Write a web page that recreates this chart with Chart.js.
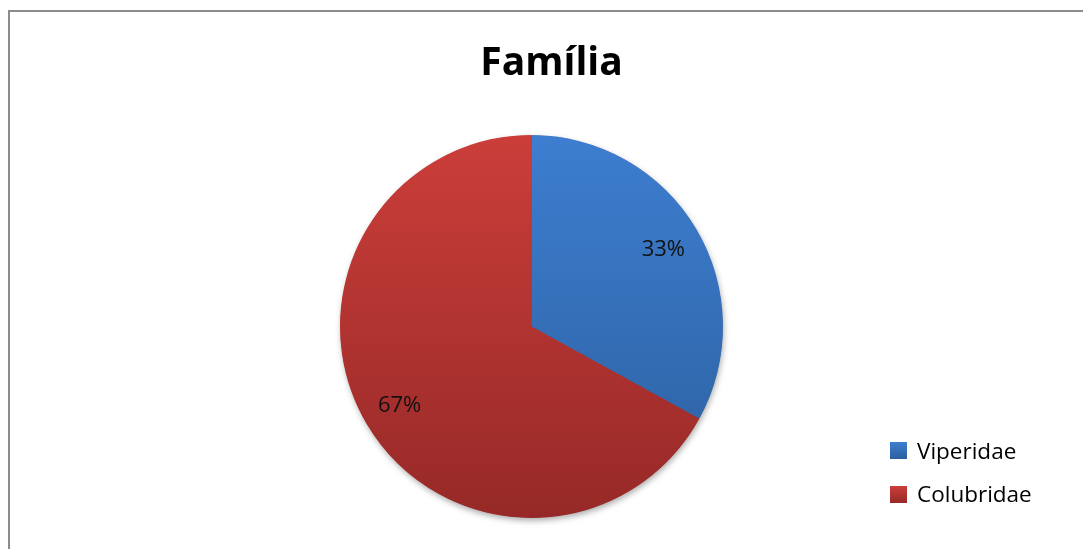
<!DOCTYPE html>
<html>
<head>
    <meta charset="utf-8">
    <title>Família</title>
    <script src="https://cdn.jsdelivr.net/npm/chart.js"></script>
    <style>
        body {
            margin: 0;
            width: 1083px;
            height: 549px;
            overflow: hidden;
            background: #fff;
            font-family: "Open Sans", "Noto Sans", sans-serif;
            position: relative;
        }
        .frame {
            position: absolute;
            left: 8px;
            top: 10px;
            width: 1100px;
            height: 560px;
            border-top: 2px solid #8c8c8c;
            border-left: 2px solid #8c8c8c;
        }
        h1 {
            position: absolute;
            left: 0;
            top: 40px;
            width: 1103px;
            margin: 0;
            text-align: center;
            font-size: 39px;
            line-height: 39px;
            font-weight: bold;
            color: #000;
        }
        canvas {
            position: absolute;
            left: 0;
            top: 0;
        }
        #legend {
            position: absolute;
            left: 890px;
            top: 429px;
            margin: 0;
            padding: 0;
            list-style: none;
        }
        #legend li {
            height: 43.5px;
            font-size: 22.5px;
            line-height: 30px;
            color: #000;
            display: flex;
            align-items: center;
        }
        #legend span.box {
            display: inline-block;
            width: 17px;
            height: 17px;
            margin-right: 10px;
        }
    </style>
</head>
<body>
    <div class="frame"></div>
    <canvas id="familyChart" width="1083" height="549"></canvas>
    <h1>Família</h1>
    <ul id="legend"></ul>

    <script>
        const families = ["Viperidae", "Colubridae"];
        const percentages = [33, 67];
        const topColors = ["#3d7ed0", "#cb3e3a"];
        const bottomColors = ["#2c5f9e", "#962927"];

        // vertical gradient per slice, spanning the pie's height
        function sliceFill(context) {
            const i = context.dataIndex;
            const area = context.chart.chartArea;
            if (!area) return topColors[i];
            const g = context.chart.ctx.createLinearGradient(0, area.top, 0, area.bottom);
            g.addColorStop(0, topColors[i]);
            g.addColorStop(1, bottomColors[i]);
            return g;
        }

        // soft drop shadow behind the whole pie
        const pieShadow = {
            id: "pieShadow",
            beforeDatasetsDraw(chart) {
                const arc = chart.getDatasetMeta(0).data[0];
                if (!arc) return;
                const ctx = chart.ctx;
                ctx.save();
                ctx.shadowColor = "rgba(0,0,0,0.35)";
                ctx.shadowBlur = 6;
                ctx.shadowOffsetX = 1;
                ctx.shadowOffsetY = 3;
                ctx.fillStyle = "#a03030";
                ctx.beginPath();
                ctx.arc(arc.x, arc.y, arc.outerRadius - 0.5, 0, Math.PI * 2);
                ctx.fill();
                ctx.restore();
            }
        };

        // percentage text inside each slice
        const sliceLabels = {
            id: "sliceLabels",
            afterDatasetsDraw(chart) {
                const ctx = chart.ctx;
                const meta = chart.getDatasetMeta(0);
                ctx.save();
                ctx.font = "22px 'Open Sans', sans-serif";
                ctx.fillStyle = "#111";
                ctx.textAlign = "center";
                ctx.textBaseline = "middle";
                meta.data.forEach((arc, i) => {
                    const mid = (arc.startAngle + arc.endAngle) / 2;
                    const r = arc.outerRadius * 0.8;
                    const x = arc.x + Math.cos(mid) * r;
                    const y = arc.y + Math.sin(mid) * r;
                    ctx.fillText(percentages[i] + "%", x, y + 1);
                });
                ctx.restore();
            }
        };

        new Chart(document.getElementById("familyChart"), {
            type: "pie",
            data: {
                labels: families,
                datasets: [{
                    data: percentages,
                    backgroundColor: sliceFill,
                    borderWidth: 0
                }]
            },
            options: {
                responsive: false,
                animation: false,
                layout: {
                    padding: { left: 340, right: 360, top: 135, bottom: 31 }
                },
                plugins: {
                    legend: { display: false },
                    tooltip: { enabled: false }
                }
            },
            plugins: [pieShadow, sliceLabels]
        });

        // legend list
        const legend = document.getElementById("legend");
        families.forEach((name, i) => {
            const li = document.createElement("li");
            const box = document.createElement("span");
            box.className = "box";
            box.style.background = `linear-gradient(${topColors[i]}, ${bottomColors[i]})`;
            li.appendChild(box);
            li.appendChild(document.createTextNode(name));
            legend.appendChild(li);
        });
    </script>
</body>
</html>
